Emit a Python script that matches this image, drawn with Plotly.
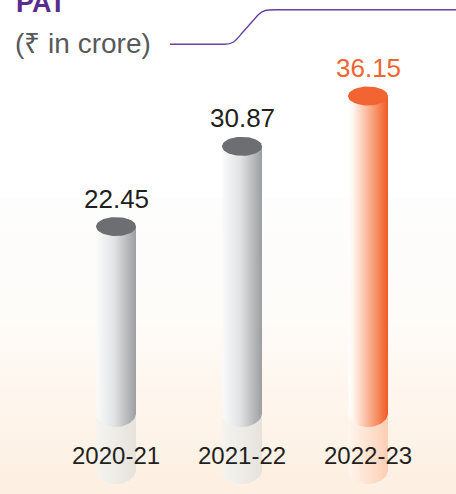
import numpy as np
import plotly.graph_objects as go

# ---- data ----
years = ["2020-21", "2021-22", "2022-23"]
pat = [22.45, 30.87, 36.15]
value_labels = ["22.45", "30.87", "36.15"]
title_text = "PAT"
unit_text = "(₹ in crore)"

# ---- layout geometry (pixels -> data) ----
W, H = 456, 494
X0_PX, X_STEP = 116, 126
Y_ZERO_PX, Y_SCALE = 440.4, 9.526


def px_to_y(py):
    return (Y_ZERO_PX - py) / Y_SCALE


x_range = [-X0_PX / X_STEP, (W - X0_PX) / X_STEP]
y_range = [px_to_y(H), px_to_y(0)]

half_w = 20 / X_STEP
cap_ry = 9.5 / Y_SCALE
body_bottom = px_to_y(427)
bottom_ry = 14 / Y_SCALE
refl_top = px_to_y(410)
refl_bottom = px_to_y(484)

FONT = "Liberation Sans, Arial, sans-serif"

styles = [
    dict(body=[[0, "#fbfbfb"], [0.45, "#e2e3e4"], [1, "#9c9ea1"]], cap="#6d6e71",
         refl=[[0, "#f6f4f0"], [1, "#e6e3dd"]], label="#231f20"),
    dict(body=[[0, "#fbfbfb"], [0.45, "#e2e3e4"], [1, "#9c9ea1"]], cap="#6d6e71",
         refl=[[0, "#f6f4f0"], [1, "#e6e3dd"]], label="#231f20"),
    dict(body=[[0, "#ffffff"], [0.12, "#fff6f1"], [0.6, "#f8a57f"], [1, "#f15a24"]], cap="#f26532",
         refl=[[0, "#fff6ee"], [1, "#fbcfb3"]], label="#f26532"),
]


def capsule(xc, top, bottom, ry):
    t = np.linspace(np.pi, 2 * np.pi, 40)
    xs = [xc - half_w, xc - half_w] + list(xc + half_w * np.cos(t)) + [xc + half_w, xc + half_w]
    ys = [top, bottom + ry] + list(bottom + ry + ry * np.sin(t)) + [bottom + ry, top]
    return xs, ys


def ellipse(xc, yc):
    t = np.linspace(0, 2 * np.pi, 60)
    return list(xc + half_w * np.cos(t)), list(yc + cap_ry * np.sin(t))


fig = go.Figure()

# background gradient (below y=198px)
bg_top = px_to_y(198)
fig.add_trace(go.Scatter(
    x=[x_range[0], x_range[1], x_range[1], x_range[0], x_range[0]],
    y=[y_range[0], y_range[0], bg_top, bg_top, y_range[0]],
    mode="lines", line=dict(width=0), fill="toself",
    fillgradient=dict(type="vertical",
                      colorscale=[[0, "#fdefe1"], [0.35, "#fef6ee"], [0.6, "#fefcf9"], [1, "#fdfdfd"]],
                      start=y_range[0], stop=bg_top),
    hoverinfo="skip", showlegend=False))

for i, v in enumerate(pat):
    st = styles[i]
    # reflection
    xs, ys = capsule(i, refl_top, refl_bottom, bottom_ry)
    fig.add_trace(go.Scatter(x=xs, y=ys, mode="lines", line=dict(width=0), fill="toself",
                             fillgradient=dict(type="horizontal", colorscale=st["refl"]),
                             hoverinfo="skip", showlegend=False))
    # body
    xs, ys = capsule(i, v, body_bottom, bottom_ry)
    fig.add_trace(go.Scatter(x=xs, y=ys, mode="lines", line=dict(width=0), fill="toself",
                             fillgradient=dict(type="horizontal", colorscale=st["body"]),
                             hoverinfo="skip", showlegend=False))
    # top cap
    xs, ys = ellipse(i, v)
    fig.add_trace(go.Scatter(x=xs, y=ys, mode="lines", line=dict(width=0), fill="toself",
                             fillcolor=st["cap"], hoverinfo="skip", showlegend=False))
    # value label
    fig.add_annotation(x=i, y=v, yshift=28, text=value_labels[i], showarrow=False,
                       font=dict(size=26, color=st["label"], family=FONT))
    # category label
    fig.add_annotation(x=i, y=px_to_y(455), text=years[i], showarrow=False,
                       font=dict(size=24, color="#231f20", family=FONT))

# title + unit
fig.add_annotation(xref="paper", yref="paper", x=14 / W, y=1 - 3 / H, xanchor="left", yanchor="middle",
                   text="<b>" + title_text + "</b>", showarrow=False,
                   font=dict(size=27, color="#5b2c8f", family=FONT))
fig.add_annotation(xref="paper", yref="paper", x=13 / W, y=1 - 44 / H, xanchor="left", yanchor="middle",
                   text=unit_text, showarrow=False,
                   font=dict(size=28, color="#58595b", family=FONT))


def p(xp, yp):
    return f"{xp / W:.5f},{1 - yp / H:.5f}"


path = ("M " + p(170, 44.3) + " L " + p(224, 44.3) + " C " + p(234, 44.3) + " " + p(236, 40) +
        " " + p(243, 32) + " L " + p(258, 15) + " C " + p(263, 10) + " " + p(266, 9.7) + " " +
        p(276, 9.7) + " L " + p(460, 9.7))
fig.add_shape(type="path", xref="paper", yref="paper", path=path,
              line=dict(color="#6a3fa0", width=1.4))

fig.update_layout(
    width=W, height=H, margin=dict(l=0, r=0, t=0, b=0),
    paper_bgcolor="white", plot_bgcolor="white",
    xaxis=dict(range=x_range, visible=False, fixedrange=True),
    yaxis=dict(range=y_range, visible=False, fixedrange=True),
    showlegend=False,
)

fig.write_html("out.html", config={"displayModeBar": False},
               post_script="document.body.style.margin='0';document.body.style.overflow='hidden';")
